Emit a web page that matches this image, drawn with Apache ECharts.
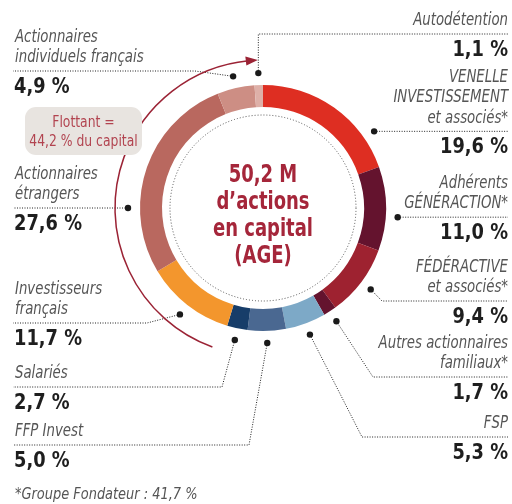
<!DOCTYPE html>
<html><head><meta charset="utf-8">
<script src="https://cdn.jsdelivr.net/npm/echarts@6.0.0/dist/echarts.min.js"></script>
<style>html,body{margin:0;padding:0;background:#fff}#c{width:512px;height:504px}</style>
</head><body><div id="c"></div>
<script>
// ---- data ----
const categories = [
  'VENELLE\nINVESTISSEMENT\net associés*',
  'Adhérents\nGÉNÉRACTION*',
  'FÉDÉRACTIVE\net associés*',
  'Autres actionnaires\nfamiliaux*',
  'FSP',
  'FFP Invest',
  'Salariés',
  'Investisseurs\nfrançais',
  'Actionnaires\nétrangers',
  'Actionnaires\nindividuels français',
  'Autodétention'
];
const values = [19.6, 11.0, 9.4, 1.7, 5.3, 5.0, 2.7, 11.7, 27.6, 4.9, 1.1];
const valueLabels = ['19,6 %', '11,0 %', '9,4 %', '1,7 %', '5,3 %', '5,0 %', '2,7 %', '11,7 %', '27,6 %', '4,9 %', '1,1 %'];
const centerLines = ['50,2 M', 'd’actions', 'en capital', '(AGE)'];
const floatLines = ['Flottant =', '44,2 % du capital'];
const footnote = '*Groupe Fondateur : 41,7 %';

// ---- style / layout ----
const colors = ['#DE2E22', '#64132E', '#9E2230', '#64132E', '#7DA9C7', '#4A6891', '#173D69', '#F3962D', '#B9685F', '#CD8E84', '#DEB0A8'];
const FONT = '"Liberation Sans Narrow", "DejaVu Sans Condensed", "Roboto", sans-serif';
const CX = 263, CY = 208, R_IN = 101, R_OUT = 123, R_DOT = 135, R_ARC = 148;
// per label: side, y of dotted underline (null = same as dot), x of bend, optional anchor angle override
const layout = [
  {side: 'right', lineY: null, angle: 55.4},
  {side: 'right', lineY: null, angle: 93.9},
  {side: 'right', lineY: 301, bendX: 382},
  {side: 'right', lineY: 377, bendX: 373},
  {side: 'right', lineY: 437, bendX: 362},
  {side: 'left', lineY: 445, bendX: 249},
  {side: 'left', lineY: 387, bendX: 222},
  {side: 'left', lineY: 323, bendX: 147},
  {side: 'left', lineY: null, angle: 270},
  {side: 'left', lineY: 71, bendX: 195},
  {side: 'right', lineY: 34}
];

function pt(deg, r) {
  const a = (deg - 90) * Math.PI / 180;
  return [CX + r * Math.cos(a), CY + r * Math.sin(a)];
}

// text element squeezed horizontally around anchor x (to mimic a condensed face)
function txt(x, y, sx, style) {
  return {type: 'text', silent: true, x: x, y: 0, scaleX: sx,
    style: Object.assign({x: 0, y: y, fontFamily: FONT}, style)};
}

const total = values.reduce((s, v) => s + v, 0);
const graphics = [];

// dotted inner circle
graphics.push({type: 'circle', shape: {cx: CX, cy: CY, r: 93}, silent: true,
  style: {fill: null, stroke: '#555', lineWidth: 1, lineDash: [1, 2]}});

// labels, leader lines, dots
let acc = 0;
values.forEach((v, i) => {
  const mid = (acc + v / 2) / total * 360;
  acc += v;
  const L = layout[i];
  const ang = L.angle != null ? L.angle : mid;
  const d = pt(ang, R_DOT);
  const lineY = L.lineY != null ? L.lineY : d[1];
  const right = L.side === 'right';
  const farX = right ? 508 : 13;
  const bendX = L.bendX != null ? L.bendX : d[0];
  graphics.push({type: 'polyline', silent: true,
    shape: {points: [d, [bendX, lineY], [farX, lineY]]},
    style: {fill: null, stroke: '#222', lineWidth: 1, lineDash: [1, 1.5]}});
  graphics.push({type: 'circle', silent: true, shape: {cx: d[0], cy: d[1], r: 3.2},
    style: {fill: '#1a1a1a'}});
  const al = right ? 'right' : 'left';
  graphics.push(txt(right ? 508 : 15, lineY - 3, 0.87, {
    text: categories[i], align: al, textAlign: al,
    verticalAlign: 'bottom', textVerticalAlign: 'bottom',
    fontSize: 17, fontStyle: 'italic', lineHeight: 20.5, fill: '#555'}));
  graphics.push(txt(right ? 508 : 14, lineY + 5, 0.9, {
    text: valueLabels[i], align: al, textAlign: al,
    verticalAlign: 'top', textVerticalAlign: 'top',
    fontSize: 22, fontWeight: 'bold', lineHeight: 22, fill: '#1e1e1e'}));
});

// flottant arc with arrow
const arcStart = 200, arcTip = 358, headLen = 12, headHalf = 4.5;
const headDeg = headLen / R_ARC * 180 / Math.PI;
graphics.push({type: 'arc', silent: true,
  shape: {cx: CX, cy: CY, r: R_ARC, startAngle: (arcStart - 90) * Math.PI / 180,
    endAngle: (arcTip - headDeg + 1 - 90) * Math.PI / 180, clockwise: true},
  style: {fill: null, stroke: '#9B2335', lineWidth: 1.5}});
graphics.push({type: 'polygon', silent: true,
  shape: {points: [pt(arcTip, R_ARC), pt(arcTip - headDeg, R_ARC + headHalf), pt(arcTip - headDeg, R_ARC - headHalf)]},
  style: {fill: '#9B2335'}});

// flottant box
graphics.push({type: 'rect', silent: true, shape: {x: 25, y: 107, width: 117, height: 48, r: 11},
  style: {fill: '#E8E4E0'}});
floatLines.forEach((t, k) => {
  graphics.push(txt(83.5, 123 + k * 19, 0.86, {
    text: t, align: 'center', textAlign: 'center',
    verticalAlign: 'middle', textVerticalAlign: 'middle',
    fontSize: 16, fill: '#B24450'}));
});

// center text
centerLines.forEach((t, k) => {
  graphics.push(txt(CX, 175 + k * 27, 0.8, {
    text: t, align: 'center', textAlign: 'center',
    verticalAlign: 'middle', textVerticalAlign: 'middle',
    fontSize: 25, fontWeight: 'bold', fill: '#A5263A'}));
});

// footnote
graphics.push(txt(15, 495, 0.9, {
  text: footnote, align: 'left', textAlign: 'left',
  verticalAlign: 'middle', textVerticalAlign: 'middle',
  fontSize: 16, fontStyle: 'italic', fill: '#555'}));

const chart = echarts.init(document.getElementById('c'));
chart.setOption({
  animation: false,
  backgroundColor: '#fff',
  series: [{
    type: 'pie',
    center: [CX, CY],
    radius: [R_IN, R_OUT],
    startAngle: 90,
    clockwise: true,
    silent: true,
    label: {show: false},
    labelLine: {show: false},
    emphasis: {disabled: true},
    data: values.map((v, i) => ({value: v, name: categories[i], itemStyle: {color: colors[i]}}))
  }],
  graphic: {elements: graphics}
});
</script>
</body></html>
